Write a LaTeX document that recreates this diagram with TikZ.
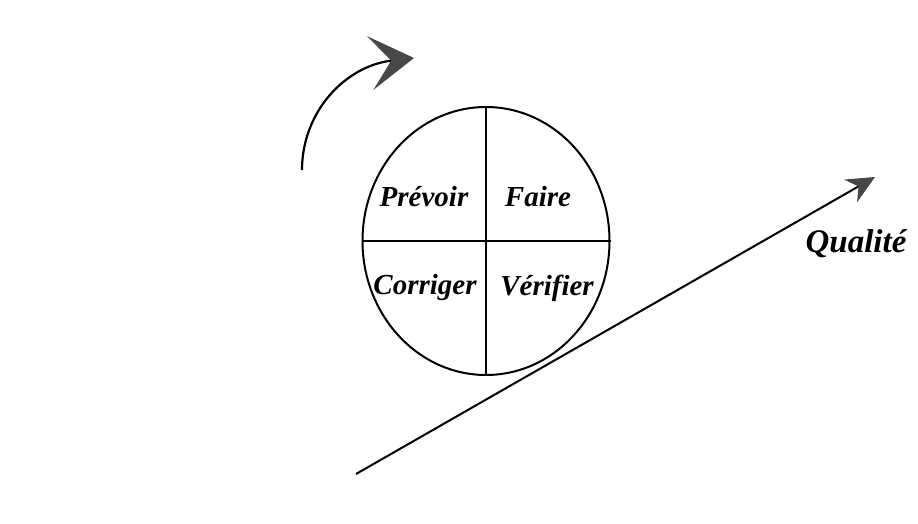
\documentclass[tikz,border=0pt]{standalone}
\usepackage{fontspec}
\setmainfont{Liberation Serif}
\usetikzlibrary{shapes.geometric, arrows.meta, positioning, calc}

\definecolor{tipgray}{HTML}{474747}

\tikzset{
  quarter/.style={font=\fontsize{29}{34}\selectfont\bfseries\itshape, inner sep=0pt},
  wheel/.style={ellipse, draw, line width=2pt, minimum width=247pt, minimum height=268pt, inner sep=0pt},
  axis/.style={line width=2pt}
}

\begin{document}
\begin{tikzpicture}[x=1pt, y=-1pt]
  \useasboundingbox (0,0) rectangle (918,524);

  % ===== Roue de Deming =====
  \node[wheel] (roue) at (486,241) {};
  \draw[axis] (roue.north) -- (roue.south);
  \draw[axis] (roue.west) -- (roue.east);

  % Quarts
  \node[quarter] (prevoir) at (424,197) {Prévoir};
  \node[quarter] (faire) at (538,197) {Faire};
  \node[quarter] (corriger) at (425,288) {Corriger};
  \node[quarter] (verifier) at (547,288) {Vérifier};

  % Sens de rotation
  \coordinate (rotdep) at (302,170);
  \coordinate (rotarr) at (414,58);
  \draw[line width=2.2pt, -{Stealth[length=44pt, width=54pt, inset=21pt, color=tipgray]}]
    (rotdep) .. controls (302,112) and (345,66) .. (rotarr);

  % Pente de la qualite
  \coordinate (pentedep) at (356,474);
  \coordinate (pentearr) at (875,177);
  \draw[line width=2pt, -{Stealth[length=28pt, width=26pt, inset=9pt, color=tipgray]}]
    (pentedep) -- (pentearr);
  \node[quarter, font=\fontsize{33}{38}\selectfont\bfseries\itshape] (qualite) at (856,244) {Qualité};
\end{tikzpicture}
\end{document}
